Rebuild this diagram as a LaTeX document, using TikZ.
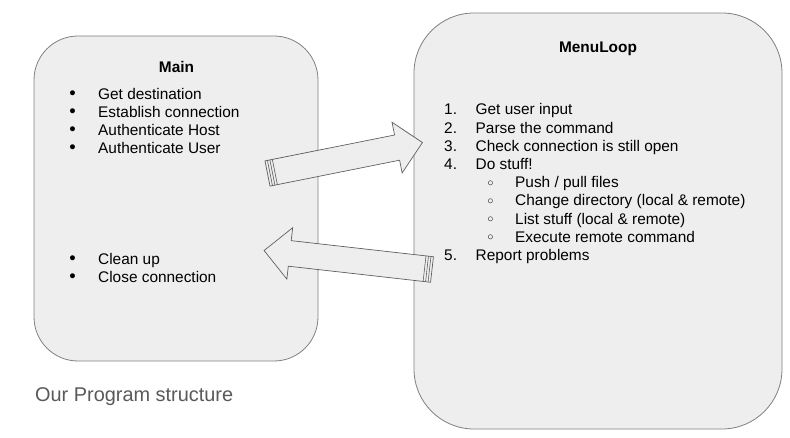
\documentclass[tikz,border=0pt]{standalone}
\usepackage{fontspec}
\setmainfont{Liberation Sans}
\usetikzlibrary{shapes.arrows,calc}
\definecolor{boxfill}{HTML}{EEEEEE}
\definecolor{boxline}{HTML}{808080}
\definecolor{arrline}{HTML}{5F5F5F}
\definecolor{captext}{HTML}{595959}

\begin{document}
\begin{tikzpicture}[x=1pt, y=-1pt,
  box/.style={draw=boxline, fill=boxfill, line width=0.8pt},
  txt/.style={anchor=base west, inner sep=0pt, font=\fontsize{15.4}{18}\selectfont},
  listmark/.style={anchor=base, inner sep=0pt, yshift=3pt, font=\fontsize{11.5}{12}\selectfont},
  submark/.style={anchor=base, inner sep=0pt, yshift=1.5pt, font=\fontsize{10.5}{11}\selectfont},
  boxhead/.style={anchor=base, inner sep=0pt, font=\fontsize{15.4}{18}\selectfont\bfseries},
  blockarrow/.style={single arrow, draw=arrline, fill=boxfill, line width=0.7pt,
    inner xsep=0pt, inner ysep=12.5pt, outer sep=0pt, single arrow head extend=13pt, anchor=tail}]
\useasboundingbox (0, 0) rectangle (790, 438);

% the two boxes
\node[box, rounded corners=44pt, minimum width=284pt, minimum height=325pt] (main) at (176, 198.5) {};
\node[box, rounded corners=60pt, minimum width=368pt, minimum height=416pt] (loop) at (598, 221) {};

% Main
\node[boxhead] (mainhead) at (176.5, 73) {Main};
\node[listmark] (b1) at (72.5, 100) {●};
\node[listmark] (b2) at (72.5, 118) {●};
\node[listmark] (b3) at (72.5, 136) {●};
\node[listmark] (b4) at (72.5, 154) {●};
\node[txt] (m1) at (98, 100) {Get destination};
\node[txt] (m2) at (98, 118) {Establish connection};
\node[txt] (m3) at (98, 136) {Authenticate Host};
\node[txt] (m4) at (98, 154) {Authenticate User};
\node[listmark] (b5) at (72.5, 264.5) {●};
\node[listmark] (b6) at (72.5, 282.5) {●};
\node[txt] (c1) at (98, 264.5) {Clean up};
\node[txt] (c2) at (98, 282.5) {Close connection};

% MenuLoop
\node[boxhead] (loophead) at (598, 53) {MenuLoop};
\node[txt] (n1) at (444, 115) {1.};
\node[txt] (n2) at (444, 133.2) {2.};
\node[txt] (n3) at (444, 151.4) {3.};
\node[txt] (n4) at (444, 169.6) {4.};
\node[txt] (n5) at (444, 260.6) {5.};
\node[txt] (l1) at (475.5, 115) {Get user input};
\node[txt] (l2) at (475.5, 133.2) {Parse the command};
\node[txt] (l3) at (475.5, 151.4) {Check connection is still open};
\node[txt] (l4) at (475.5, 169.6) {Do stuff!};
\node[submark] (o1) at (490.5, 187.8) {○};
\node[submark] (o2) at (490.5, 206) {○};
\node[submark] (o3) at (490.5, 224.2) {○};
\node[submark] (o4) at (490.5, 242.4) {○};
\node[txt] (s1) at (515, 187.8) {Push / pull files};
\node[txt] (s2) at (515, 206) {Change directory (local \& remote)};
\node[txt] (s3) at (515, 224.2) {List stuff (local \& remote)};
\node[txt] (s4) at (515, 242.4) {Execute remote command};
\node[txt] (l5) at (475.5, 260.6) {Report problems};

% block arrows with striped tails
\node[blockarrow, minimum height=158pt, rotate=11.3] (go) at (267.5, 173.5) {};
\node[blockarrow, minimum height=169pt, rotate=173.55] (back) at (432, 269.5) {};
\draw[arrline, line width=0.6pt] ($(go.before tail)!2.5pt!(go.after head)$) to ($(go.after tail)!2.5pt!(go.before head)$);
\draw[arrline, line width=0.6pt] ($(go.before tail)!5pt!(go.after head)$) to ($(go.after tail)!5pt!(go.before head)$);
\draw[arrline, line width=0.6pt] ($(go.before tail)!7.5pt!(go.after head)$) to ($(go.after tail)!7.5pt!(go.before head)$);
\draw[arrline, line width=0.6pt] ($(back.before tail)!2.5pt!(back.after head)$) to ($(back.after tail)!2.5pt!(back.before head)$);
\draw[arrline, line width=0.6pt] ($(back.before tail)!5pt!(back.after head)$) to ($(back.after tail)!5pt!(back.before head)$);
\draw[arrline, line width=0.6pt] ($(back.before tail)!7.5pt!(back.after head)$) to ($(back.after tail)!7.5pt!(back.before head)$);

\node[txt, text=captext, font=\fontsize{19.9}{24}\selectfont] (cap) at (35, 401.7) {Our Program structure};

\end{tikzpicture}
\end{document}
